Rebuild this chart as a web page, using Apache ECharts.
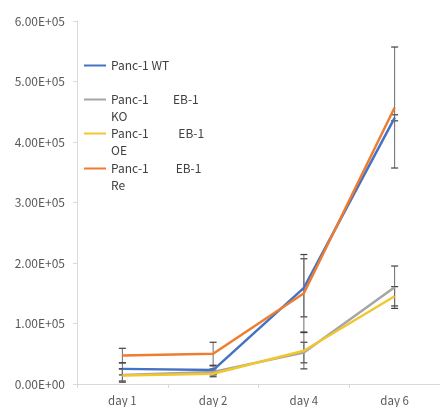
<!DOCTYPE html>
<html>
<head>
<meta charset="utf-8">
<script src="https://cdn.jsdelivr.net/npm/echarts@6/dist/echarts.min.js"></script>
<style>
  html, body { margin: 0; padding: 0; background: #fff; }
  #main { width: 440px; height: 407px; }
</style>
</head>
<body>
<div id="main"></div>
<script>
// 横軸
var days = ['day 1', 'day 2', 'day 4', 'day 6'];

// 系列名
var names = ['Panc-1 WT', 'Panc-1         EB-1\nKO', 'Panc-1           EB-1\nOE', 'Panc-1          EB-1\nRe'];
var colors = ['#4472C4', '#A5A5A5', '#F2C62F', '#ED7D31'];

// 値
var wt = [25000, 23000, 159000, 440000];
var ko = [15000, 20000, 52000, 160000];
var oe = [14000, 17000, 55000, 145000];
var re = [47000, 50000, 150000, 457000];

// 誤差
var wtErr = [10000, 7000, 48000, 5000];
var koErr = [10000, 5000, 17000, 35000];
var oeErr = [11000, 5000, 30000, 16000];
var reErr = [12000, 19000, 64000, 100000];

var values = [wt, ko, oe, re];
var errs = [wtErr, koErr, oeErr, reErr];

function sciLabel(v) {
    if (v === 0) return '0.00E+00';
    var e = Math.floor(Math.log10(Math.abs(v)));
    var m = v / Math.pow(10, e);
    return m.toFixed(2) + 'E+' + (e < 10 ? '0' + e : e);
}

var font = '"Noto Sans CJK JP", "Noto Sans", sans-serif';

var myChart = echarts.init(document.getElementById('main'));

var series = [];
values.forEach(function (vals, i) {
    series.push({
        name: names[i],
        type: 'line',
        data: vals,
        symbol: 'none',
        z: 3,
        lineStyle: {width: 2.5, color: colors[i]},
        itemStyle: {color: colors[i]}
    });
});

// 誤差棒
values.forEach(function (vals, i) {
    var d = vals.map(function (v, k) {
        return [k, v - errs[i][k], v + errs[i][k]];
    });
    series.push({
        type: 'custom',
        z: 2,
        silent: true,
        renderItem: function (params, api) {
            var x = api.value(0);
            var lo = api.coord([x, api.value(1)]);
            var hi = api.coord([x, api.value(2)]);
            var w = 3.5;
            var st = {stroke: '#6b6b6b', lineWidth: 1};
            var cap = {stroke: '#404040', lineWidth: 1.2};
            return {
                type: 'group',
                children: [
                    {type: 'line', shape: {x1: lo[0], y1: lo[1], x2: hi[0], y2: hi[1]}, style: st},
                    {type: 'line', shape: {x1: lo[0] - w, y1: lo[1], x2: lo[0] + w, y2: lo[1]}, style: cap},
                    {type: 'line', shape: {x1: hi[0] - w, y1: hi[1], x2: hi[0] + w, y2: hi[1]}, style: cap}
                ]
            };
        },
        encode: {x: 0, y: [1, 2]},
        data: d
    });
});

// 凡例（1行目にアイコンを合わせる）
var legendTops = [52, 69, 103, 138];
var legends = names.map(function (n, i) {
    return {
        data: [n],
        left: 79,
        top: legendTops[i],
        orient: 'vertical',
        icon: 'rect',
        itemWidth: 22,
        itemHeight: 2,
        itemGap: 0,
        selectedMode: false,
        formatter: function (name) {
            return name.indexOf('\n') >= 0 ? '\n' + name : name;
        },
        textStyle: {
            fontFamily: font,
            fontSize: 12,
            color: '#404040',
            lineHeight: 17
        }
    };
});

var option = {
    backgroundColor: '#fff',
    animation: false,
    color: colors,
    legend: legends,
    grid: {left: 77, right: -8, top: 21, bottom: 23},
    xAxis: {
        type: 'category',
        data: days,
        boundaryGap: true,
        axisLine: {lineStyle: {color: '#D9D9D9', width: 1}},
        axisTick: {show: true, length: 4, lineStyle: {color: '#D9D9D9'}},
        axisLabel: {color: '#595959', fontFamily: font, fontSize: 11.5, margin: 11}
    },
    yAxis: {
        type: 'value',
        min: 0,
        max: 600000,
        interval: 100000,
        axisLine: {show: true, lineStyle: {color: '#D9D9D9', width: 1}},
        axisTick: {show: true, length: 4, lineStyle: {color: '#D9D9D9'}},
        splitLine: {show: false},
        axisLabel: {
            color: '#595959', fontFamily: font, fontSize: 12, margin: 12,
            formatter: sciLabel
        }
    },
    series: series
};

myChart.setOption(option, true);
</script>
</body>
</html>
